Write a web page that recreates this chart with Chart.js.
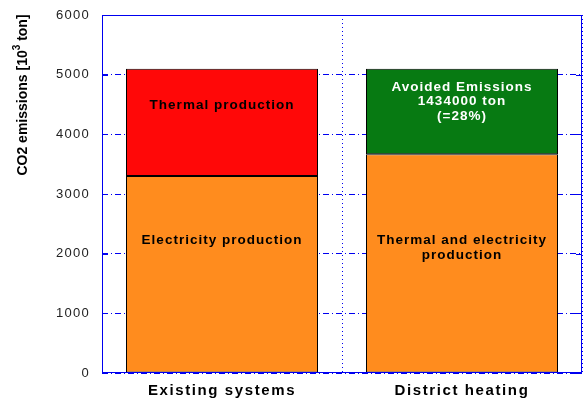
<!DOCTYPE html>
<html>
<head>
<meta charset="utf-8">
<script src="https://cdn.jsdelivr.net/npm/chart.js@4"></script>
<style>
  html, body { margin: 0; padding: 0; background: #fff; }
  #wrap { width: 586px; height: 400px; }
</style>
</head>
<body>
<div id="wrap"><canvas id="chart" width="586" height="400"></canvas></div>
<script>
// ---------- data ----------
const categories = ["Existing systems", "District heating"];
const electricity = [3300, null];
const thermal = [1800, null];
const combined = [null, 3666];
const avoided = [null, 1434];
const yTicks = [0, 1000, 2000, 3000, 4000, 5000, 6000];

// text inside the bars: bar index, value where each line sits, colour
const barNotes = [
  { bar: 0, at: [4480], lines: ["Thermal production"], color: "#000" },
  { bar: 0, at: [2230], lines: ["Electricity production"], color: "#000" },
  { bar: 1, at: [2230, 1980], lines: ["Thermal and electricity", "production"], color: "#000" },
  { bar: 1, at: [4790, 4550, 4300], lines: ["Avoided Emissions", "1434000 ton", "(=28%)"], color: "#fff" }
];

const ORANGE = "#ff8c1e";
const RED = "#ff0808";
const GREEN = "#077a12";
const BLUE = "#0000f0";
const SANS = "'Liberation Sans', Arial, sans-serif";

// ---------- plugins ----------
// gnuplot-like text: spaced-out labels, frame, tick marks, axis title with superscript
const gnuplotText = {
  id: "gnuplotText",
  afterDatasetsDraw(chart) {
    const ctx = chart.ctx;
    const a = chart.chartArea;
    const x = chart.scales.x;
    const y = chart.scales.y;

    ctx.save();

    // frame + short tick marks on both sides
    ctx.strokeStyle = BLUE;
    ctx.lineWidth = 1;
    ctx.strokeRect(a.left + 0.5, a.top + 0.5, a.right - a.left - 1, a.bottom - a.top - 1);
    ctx.beginPath();
    yTicks.forEach((v) => {
      const py = Math.round(y.getPixelForValue(v)) + 0.5;
      ctx.moveTo(a.left, py);
      ctx.lineTo(a.left + 6, py);
      ctx.moveTo(a.right - 6, py);
      ctx.lineTo(a.right, py);
    });
    ctx.stroke();

    // y tick labels
    ctx.fillStyle = "#222";
    ctx.font = "13px " + SANS;
    ctx.letterSpacing = "1.3px";
    ctx.textAlign = "right";
    ctx.textBaseline = "middle";
    yTicks.forEach((v) => {
      ctx.fillText(String(v), a.left - 12, y.getPixelForValue(v));
    });

    // category labels
    ctx.fillStyle = "#000";
    ctx.font = "bold 15px " + SANS;
    ctx.letterSpacing = "1.6px";
    ctx.textAlign = "center";
    ctx.textBaseline = "alphabetic";
    categories.forEach((c, i) => {
      ctx.fillText(c, x.getPixelForValue(i), 395);
    });

    // text inside the bars
    ctx.font = "bold 13.5px " + SANS;
    ctx.letterSpacing = "1px";
    ctx.textBaseline = "middle";
    barNotes.forEach((n) => {
      ctx.fillStyle = n.color;
      const cx = x.getPixelForValue(n.bar);
      n.lines.forEach((line, i) => {
        ctx.fillText(line, cx, y.getPixelForValue(n.at[i]));
      });
    });

    // y axis title, rotated, with superscript 3
    ctx.fillStyle = "#000";
    ctx.letterSpacing = "0px";
    ctx.translate(23, 95);
    ctx.rotate(-Math.PI / 2);
    const big = "bold 14px 'Liberation Sans Narrow', " + SANS;
    const small = "bold 10px 'Liberation Sans Narrow', " + SANS;
    const parts = [["CO2 emissions [10", big, 0], ["3", small, -6], [" ton]", big, 0]];
    let total = 0;
    parts.forEach((p) => { ctx.font = p[1]; total += ctx.measureText(p[0]).width; });
    let px = -total / 2;
    ctx.textAlign = "left";
    parts.forEach((p) => {
      ctx.font = p[1];
      ctx.fillText(p[0], px, p[2]);
      px += ctx.measureText(p[0]).width;
    });

    ctx.restore();
  }
};

// ---------- chart ----------
function makeSet(label, data, color) {
  return {
    label,
    data,
    backgroundColor: color,
    borderColor: "#000",
    borderWidth: 1,
    borderSkipped: false,
    barPercentage: 0.8,
    categoryPercentage: 1.0
  };
}

new Chart(document.getElementById("chart"), {
  type: "bar",
  data: {
    labels: categories,
    datasets: [
      makeSet("Electricity production", electricity, ORANGE),
      makeSet("Thermal production", thermal, RED),
      makeSet("Thermal and electricity production", combined, ORANGE),
      makeSet("Avoided Emissions", avoided, GREEN)
    ]
  },
  options: {
    responsive: false,
    animation: false,
    devicePixelRatio: 1,
    layout: { padding: { top: 15, right: 4, left: 0, bottom: 0 } },
    plugins: {
      legend: { display: false },
      tooltip: { enabled: false }
    },
    scales: {
      x: {
        stacked: true,
        offset: true,
        grid: { offset: true, color: BLUE, lineWidth: 1, drawTicks: false },
        border: { display: false, dash: [1, 3] },
        ticks: { display: false },
        afterFit: (s) => { s.height = 27; }
      },
      y: {
        stacked: true,
        min: 0,
        max: 6000,
        afterBuildTicks: (s) => { s.ticks = yTicks.map((v) => ({ value: v })); },
        grid: { color: BLUE, lineWidth: 1, drawTicks: false },
        border: { display: false, dash: [6, 3, 1, 3] },
        ticks: { display: false },
        afterFit: (s) => { s.width = 102; }
      }
    }
  },
  plugins: [gnuplotText]
});
</script>
</body>
</html>
